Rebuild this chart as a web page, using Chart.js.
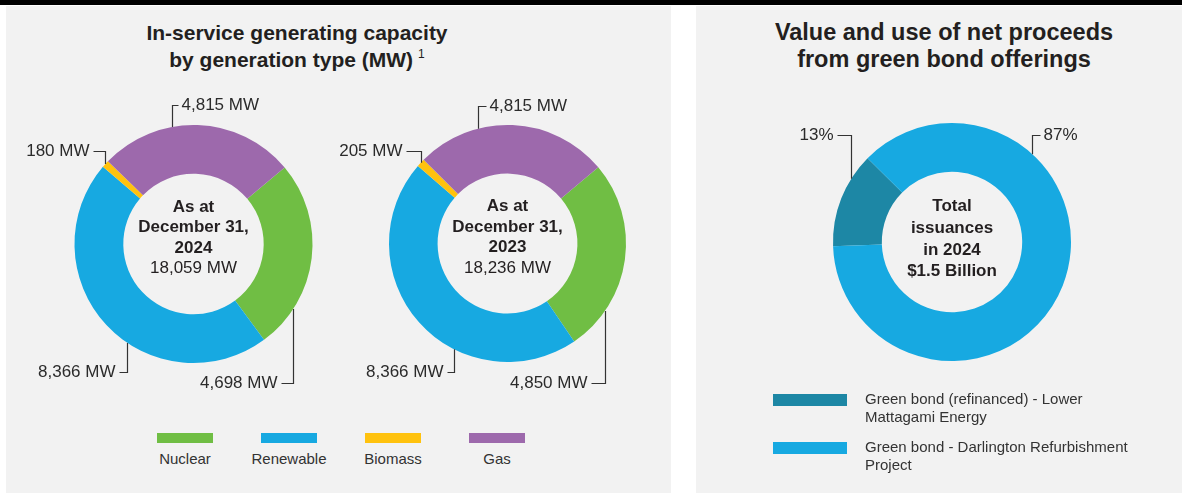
<!DOCTYPE html>
<html>
<head>
<meta charset="utf-8">
<script src="https://cdn.jsdelivr.net/npm/chart.js@4.4.1/dist/chart.umd.min.js"></script>
<style>
  body { margin: 0; background: #fff; width: 1182px; height: 493px; position: relative; overflow: hidden;
         font-family: "Liberation Sans", Arial, sans-serif; color: #231f20; }
  .bar { position: absolute; left: 0; top: 0; width: 1182px; height: 5px; background: #000; }
  .panel { position: absolute; top: 6px; height: 487px; background: #f2f2f2; }
  .title { position: absolute; text-align: center; font-weight: bold; font-size: 21px; line-height: 27px; }
  .title sup { font-size: 12px; vertical-align: 9px; line-height: 0; margin-left: 5px; font-weight: normal; }
  .box { position: absolute; }
  #legendGen { position: absolute; left: 133px; top: 433px; display: flex; }
  #legendGen .item { width: 104px; display: flex; flex-direction: column; align-items: center; }
  #legendGen .sw { width: 56px; height: 10px; }
  #legendGen .lb { font-size: 15px; margin-top: 7px; color: #333; }
  #legendBond { position: absolute; left: 773px; top: 390px; }
  #legendBond .item { display: flex; margin-bottom: 12px; }
  #legendBond .sw { width: 74px; height: 12px; margin-top: 4px; }
  #legendBond .lb { width: 275px; margin-left: 18px; font-size: 15px; line-height: 18px; color: #333; }
</style>
</head>
<body>
<div class="bar"></div>
<div class="panel" style="left:6px;width:665px;"></div>
<div class="panel" style="left:696px;width:486px;"></div>

<div class="title" style="left:97px;width:400px;top:19px;">In-service generating capacity<br>by generation type (MW)<sup>1</sup></div>
<div class="title" style="left:744px;width:400px;top:19px;font-size:23.5px;">Value and use of net proceeds<br>from green bond offerings</div>

<div class="box" style="left:0px;top:80px;width:350px;height:330px;"><canvas id="gen2024"></canvas></div>
<div class="box" style="left:340px;top:80px;width:330px;height:330px;"><canvas id="gen2023"></canvas></div>
<div class="box" style="left:760px;top:80px;width:400px;height:320px;"><canvas id="bond"></canvas></div>

<div id="legendGen"></div>
<div id="legendBond"></div>

<script>
const genTypes = ['Nuclear', 'Renewable', 'Biomass', 'Gas'];
const mw2024 = [4698, 8366, 180, 4815];
const mw2023 = [4850, 8366, 205, 4815];
const genColors = ['#70be44', '#17a9e1', '#ffc20e', '#9d69ac'];

const bondUses = ['Green bond (refinanced) - Lower Mattagami Energy', 'Green bond - Darlington Refurbishment Project'];
const bondShare = [13, 87];
const bondColors = ['#1d87a5', '#17a9e1'];

const fmt = v => v.toLocaleString('en-US');

// leader lines + centre text
const leaders = {
  id: 'leaders',
  afterDatasetsDraw(chart, args, opts) {
    const ctx = chart.ctx;
    const arcs = chart.getDatasetMeta(0).data;
    ctx.save();
    ctx.strokeStyle = '#333';
    ctx.lineWidth = 1.2;
    ctx.fillStyle = '#2b2b2b';
    ctx.font = '17px "Liberation Sans", Arial, sans-serif';
    ctx.textBaseline = 'middle';
    let cx = 0, cy = 0;
    arcs.forEach((arc, i) => {
      const p = arc.getProps(['x', 'y', 'startAngle', 'endAngle', 'outerRadius'], true);
      cx = p.x; cy = p.y;
      const L = opts.items[i];
      const a = p.startAngle + L.t * (p.endAngle - p.startAngle);
      const ax = Math.round(p.x + Math.cos(a) * p.outerRadius) + 0.5;
      const ay = p.y + Math.sin(a) * p.outerRadius;
      const ly = Math.round(p.y + L.y) + 0.5;
      const ex = ax + L.dx;
      ctx.beginPath();
      ctx.moveTo(ax, ay);
      ctx.lineTo(ax, ly);
      ctx.lineTo(ex, ly);
      ctx.stroke();
      ctx.textAlign = L.dx > 0 ? 'left' : 'right';
      ctx.fillText(opts.labels[i], ex + (L.dx > 0 ? 3 : -4), ly);
    });
    // centre text
    ctx.textAlign = 'center';
    ctx.fillStyle = '#231f20';
    const lines = opts.center;
    const top = cy + opts.centerOffset - (lines.length - 1) * opts.lineHeight / 2;
    lines.forEach((ln, k) => {
      ctx.font = (ln.bold ? 'bold ' : '') + '17px "Liberation Sans", Arial, sans-serif';
      ctx.fillText(ln.text, cx, top + k * opts.lineHeight);
    });
    ctx.restore();
  }
};

function donut(id, labels, values, colors, rotation, padding, leaderOpts) {
  return new Chart(document.getElementById(id), {
    type: 'doughnut',
    data: {
      labels: labels,
      datasets: [{
        data: values,
        backgroundColor: colors,
        borderWidth: 0,
      }]
    },
    options: {
      responsive: true,
      maintainAspectRatio: false,
      animation: false,
      rotation: rotation,
      cutout: '59%',
      layout: { padding: padding },
      plugins: {
        legend: { display: false },
        tooltip: { enabled: false },
        leaders: leaderOpts
      }
    },
    plugins: [leaders]
  });
}

const sum = arr => arr.reduce((a, b) => a + b, 0);

donut('gen2024', genTypes, mw2024, genColors, 50,
  { left: 74, right: 37, top: 45, bottom: 47 },
  {
    labels: mw2024.map(v => fmt(v) + ' MW'),
    items: [
      { t: 0.78, y: 139, dx: -12 },
      { t: 0.42, y: 128, dx: -8 },
      { t: 0.5, y: -93, dx: -12 },
      { t: 0.37, y: -139, dx: 6 }
    ],
    center: [
      { text: 'As at', bold: true },
      { text: 'December 31,', bold: true },
      { text: '2024', bold: true },
      { text: fmt(sum(mw2024)) + ' MW', bold: false }
    ],
    centerOffset: -6, lineHeight: 20.5
  });

donut('gen2023', genTypes, mw2023, genColors, 50,
  { left: 49, right: 44, top: 45, bottom: 48 },
  {
    labels: mw2023.map(v => fmt(v) + ' MW'),
    items: [
      { t: 0.78, y: 139.5, dx: -14 },
      { t: 0.37, y: 128.5, dx: -7 },
      { t: 0.5, y: -92.5, dx: -15 },
      { t: 0.32, y: -137.5, dx: 8 }
    ],
    center: [
      { text: 'As at', bold: true },
      { text: 'December 31,', bold: true },
      { text: '2023', bold: true },
      { text: fmt(sum(mw2023)) + ' MW', bold: false }
    ],
    centerOffset: -6, lineHeight: 20.5
  });

donut('bond', bondUses, bondShare, bondColors, -92,
  { left: 73, right: 89, top: 43, bottom: 39 },
  {
    labels: bondShare.map(v => v + '%'),
    items: [
      { t: 0.73, y: -107, dx: -14 },
      { t: 0.28, y: -107, dx: 8 }
    ],
    center: [
      { text: 'Total', bold: true },
      { text: 'issuances', bold: true },
      { text: 'in 2024', bold: true },
      { text: '$1.5 Billion', bold: true }
    ],
    centerOffset: -3, lineHeight: 21.7
  });

// HTML legends
const lg = document.getElementById('legendGen');
genTypes.forEach((name, i) => {
  lg.insertAdjacentHTML('beforeend',
    '<div class="item"><div class="sw" style="background:' + genColors[i] + '"></div><div class="lb">' + name + '</div></div>');
});
const lb = document.getElementById('legendBond');
bondUses.forEach((name, i) => {
  lb.insertAdjacentHTML('beforeend',
    '<div class="item"><div class="sw" style="background:' + bondColors[i] + '"></div><div class="lb">' + name + '</div></div>');
});
</script>
</body>
</html>
